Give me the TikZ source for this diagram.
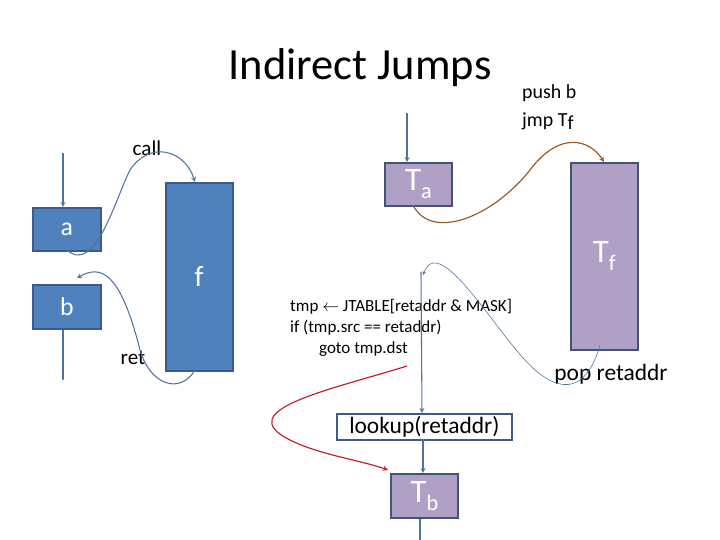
\documentclass[tikz,border=0pt]{standalone}
\usepackage{fontspec}
\setmainfont{Carlito}
\usetikzlibrary{arrows.meta}
\begin{document}
\begin{tikzpicture}[x=0.03cm,y=-0.03cm,
 bb/.style={draw=bbl,line width=1.5pt,fill={rgb,255:red,79;green,129;blue,189},text=white,font=\fontsize{22}{22}\selectfont,inner sep=0},
 pb/.style={draw={rgb,255:red,64;green,84;blue,120},line width=1.5pt,fill={rgb,255:red,176;green,160;blue,198},text=white,font=\fontsize{28}{28}\selectfont,inner sep=0},
 ln/.style={draw={rgb,255:red,79;green,115;blue,160},line width=0.9pt},
 arr/.style={ln,-stealth}]
\definecolor{bbl}{RGB}{60,90,140}
\path[use as bounding box] (0,0) rectangle (720,540);
\node[bb,anchor=north west,minimum width=2.04cm,minimum height=1.29cm] (a) at (32,207) {a};
\node[bb,anchor=north west,minimum width=2.04cm,minimum height=1.32cm] (b) at (32,284) {b};
\node[bb,anchor=north west,minimum width=2.01cm,minimum height=5.64cm] (f) at (165,182) {};
\node[text=white,font=\fontsize{25}{25}\selectfont] (fl) at (199,276) {f};
\node[pb,anchor=north west,minimum width=2.01cm,minimum height=1.29cm] (Ta) at (384,162) {T\raisebox{-0.5ex}{\fontsize{19}{19}\selectfont a}};
\node[pb,anchor=north west,minimum width=2.01cm,minimum height=5.61cm] (Tf) at (570,162) {T\raisebox{-0.5ex}{\fontsize{19}{19}\selectfont f}};
\node[draw=bbl,line width=1.5pt,anchor=north west,minimum width=5.25cm,minimum height=0.78cm,inner sep=0,font=\fontsize{20}{20}\selectfont] (lk) at (336,413) {lookup(retaddr)};
\node[pb,anchor=north west,minimum width=2.01cm,minimum height=1.32cm] (Tb) at (390,473) {T\raisebox{-0.5ex}{\fontsize{19}{19}\selectfont b}};
\node[font=\fontsize{38}{38}\selectfont] (title) at (360,68) {Indirect Jumps};
\node[align=left,anchor=north west,font=\fontsize{17}{24}\selectfont,inner sep=0] (push) at (522,84) {push b\\jmp T\raisebox{-0.4ex}{f}};
\node[font=\fontsize{18}{18}\selectfont] (call) at (147,148) {call};
\node[font=\fontsize{18}{18}\selectfont] (ret) at (133,358) {ret};
\node[font=\fontsize{20}{20}\selectfont] (pop) at (611,374) {pop retaddr};
\node[align=left,anchor=north west,font=\fontsize{14.5}{18}\selectfont,inner sep=0] (code) at (290,299) {tmp $\leftarrow$ JTABLE[retaddr \& MASK]\\if (tmp.src == retaddr)\\\hspace{1.7em}goto tmp.dst};
\coordinate (a0) at (63,153); \coordinate (b1) at (63,380);
\coordinate (ta0) at (407,113); \coordinate (tb1) at (420,540);
\draw[arr] (a0) -- (a0|-a.north);
\draw[ln,-{Circle[length=2pt]}] (b.south-|b1) -- (b1);
\draw[arr] (ta0) -- (ta0|-Ta.north);
\draw[arr] (423,439) -- (Tb.north-|423,0);
\draw[ln] (Tb.south-|420,0) -- (tb1);
\draw[arr] (421,272) -- (lk.north-|422,0);
\draw[arr] (67,250) .. controls (95,275) and (115,200) .. (130,170) .. controls (150,140) and (185,150) .. (195,182);
\draw[arr] (195,370) .. controls (180,395) and (150,385) .. (140,350) .. controls (120,270) and (100,265) .. (77,278);
\draw[-stealth,draw={rgb,255:red,150;green,90;blue,40},line width=1pt] (413,205) .. controls (430,240) and (490,220) .. (530,170) .. controls (560,130) and (590,140) .. (604,162);
\draw[-stealth,draw={rgb,255:red,200;green,30;blue,40},line width=1pt] (407,366) .. controls (330,390) and (230,410) .. (290,440) .. controls (320,455) and (360,460) .. (388,470);
\draw[ln,line width=0.5pt,-stealth] (600,345) .. controls (590,380) and (570,400) .. (535,370) .. controls (500,340) and (440,230) .. (423,275);
\end{tikzpicture}
\end{document}
